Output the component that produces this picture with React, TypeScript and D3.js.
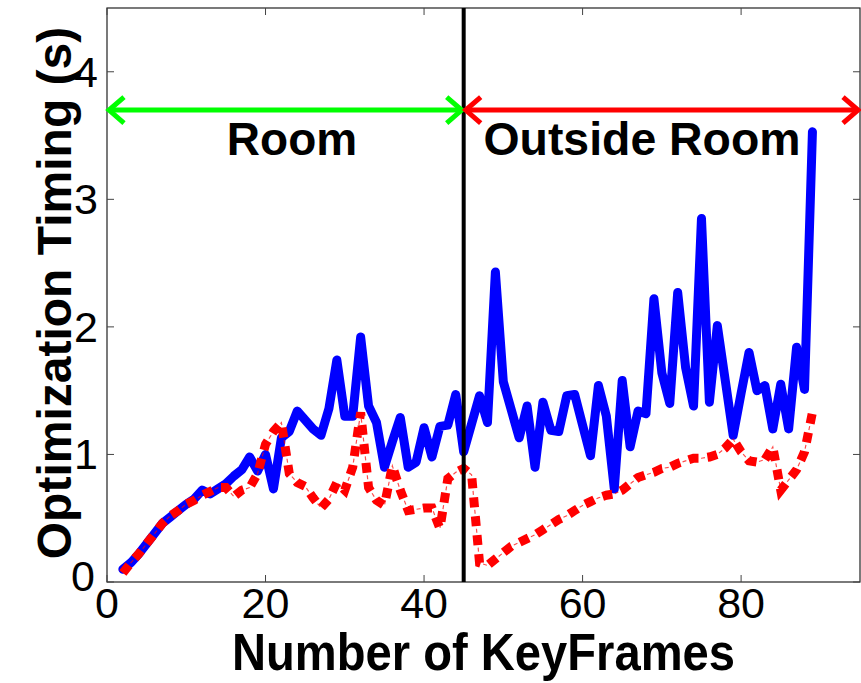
import React, { useEffect, useRef } from 'react';
import * as d3 from 'd3';

// keyframe index of the first sample (samples go one per keyframe)
const firstKeyFrame = 2;

// blue solid line: full optimization timing (s)
const fullTiming = [
  0.10, 0.15, 0.22, 0.30, 0.38, 0.46, 0.51, 0.56, 0.61, 0.65, 0.72, 0.69, 0.73, 0.77, 0.83,
  0.88, 0.98, 0.87, 1.00, 0.73, 1.13, 1.18, 1.34, 1.27, 1.20, 1.15, 1.36, 1.74, 1.30, 1.30,
  1.92, 1.38, 1.25, 0.90, 1.10, 1.29, 0.90, 0.94, 1.21, 0.98, 1.22, 1.23, 1.47, 1.02, 1.24,
  1.46, 1.25, 2.43, 1.57, 1.35, 1.13, 1.38, 0.90, 1.41, 1.19, 1.18, 1.46, 1.47, 1.23, 0.99,
  1.54, 1.30, 0.73, 1.58, 1.06, 1.34, 1.32, 2.22, 1.64, 1.40, 2.27, 1.68, 1.38, 2.85, 1.41,
  2.01, 1.58, 1.15, 1.48, 1.80, 1.50, 1.54, 1.20, 1.55, 1.20, 1.84, 1.51, 3.53,
];

// red dash-dot line: second timing series (s)
const otherTiming = [
  0.07, 0.15, 0.22, 0.30, 0.38, 0.46, 0.52, 0.56, 0.61, 0.64, 0.68, 0.71, 0.74, 0.74, 0.67,
  0.72, 0.74, 0.85, 1.08, 1.18, 1.25, 0.85, 0.78, 0.75, 0.66, 0.58, 0.65, 0.78, 0.72, 0.90,
  1.33, 0.74, 0.64, 0.60, 0.91, 0.72, 0.56, 0.57, 0.58, 0.58, 0.42, 0.81, 0.86, 0.89, 0.84,
  0.15, 0.13, 0.18, 0.23, 0.28, 0.31, 0.34, 0.37, 0.41, 0.45, 0.49, 0.52, 0.56, 0.60, 0.63,
  0.66, 0.68, 0.69, 0.72, 0.77, 0.82, 0.84, 0.86, 0.89, 0.90, 0.93, 0.95, 0.97, 0.97, 0.98,
  1.00, 1.05, 1.12, 1.02, 0.95, 0.94, 0.96, 1.06, 0.72, 0.80, 0.88, 1.02, 1.33,
];

const xTicks = [0, 20, 40, 60, 80];
const yTicks = [0, 1, 2, 3, 4];
const xDomain = [0, 95];
const yDomain = [0, 4.5];

// region split and the level of the region arrows
const splitKeyFrame = 45;
const arrowLevel = 3.7;
const regionLabels = ['Room', 'Outside Room'];

const xTitle = 'Number of KeyFrames';
const yTitle = 'Optimization Timing (s)';

const FONT = '"Liberation Sans", Arial, Helvetica, sans-serif';

const App = () => {
  const svgRef = useRef(null);

  useEffect(() => {
    if (!svgRef.current) return;
    const W = 861;
    const H = 683;
    const margin = { top: 8, right: 1, bottom: 101, left: 107 };
    const width = W - margin.left - margin.right;
    const height = H - margin.top - margin.bottom;

    const root = d3.select(svgRef.current);
    root.selectAll('*').remove();
    root.attr('width', W).attr('height', H);

    const svg = root.append('g')
      .attr('transform', `translate(${margin.left},${margin.top})`);

    const x = d3.scaleLinear().domain(xDomain).range([0, width]);
    const y = d3.scaleLinear().domain(yDomain).range([height, 0]);

    // frame and inward ticks (matlab style box)
    svg.append('rect')
      .attr('width', width).attr('height', height)
      .attr('fill', 'white').attr('stroke', '#222').attr('stroke-width', 1.2);

    const tickLen = 7;
    const tickG = svg.append('g').attr('stroke', '#444').attr('stroke-width', 1);
    xTicks.forEach(t => {
      tickG.append('line').attr('x1', x(t)).attr('x2', x(t)).attr('y1', height).attr('y2', height - tickLen);
      tickG.append('line').attr('x1', x(t)).attr('x2', x(t)).attr('y1', 0).attr('y2', tickLen);
    });
    yTicks.forEach(t => {
      tickG.append('line').attr('x1', 0).attr('x2', tickLen).attr('y1', y(t)).attr('y2', y(t));
      tickG.append('line').attr('x1', width).attr('x2', width - tickLen).attr('y1', y(t)).attr('y2', y(t));
    });

    // tick labels
    svg.append('g').selectAll('text')
      .data(xTicks).enter().append('text')
      .attr('x', d => x(d)).attr('y', height + 36)
      .attr('text-anchor', 'middle')
      .style('font-family', FONT).style('font-size', '43px')
      .text(d => d);

    svg.append('g').selectAll('text')
      .data(yTicks).enter().append('text')
      .attr('x', d => (d === 0 ? -12 : -9)).attr('y', d => y(d) + 15 - (d === 0 ? 6 : 0))
      .attr('text-anchor', 'end')
      .style('font-family', FONT).style('font-size', '43px')
      .text(d => d);

    // axis titles
    svg.append('text')
      .attr('x', width / 2).attr('y', height + 88)
      .attr('text-anchor', 'middle')
      .attr('textLength', 503).attr('lengthAdjust', 'spacingAndGlyphs')
      .style('font-family', FONT).style('font-size', '52px').style('font-weight', 'bold')
      .text(xTitle);

    svg.append('text')
      .attr('transform', `translate(${-107 + 71},${height / 2 - 2}) rotate(-90)`)
      .attr('text-anchor', 'middle')
      .style('font-family', FONT).style('font-size', '48px').style('font-weight', 'bold')
      .text(yTitle);

    const keyFrameOf = i => i + firstKeyFrame;

    const line = d3.line()
      .x((d, i) => x(keyFrameOf(i)))
      .y(d => y(d));

    // blue solid series
    svg.append('path')
      .datum(fullTiming)
      .attr('d', line)
      .attr('fill', 'none')
      .attr('stroke', '#0000ff')
      .attr('stroke-width', 9)
      .attr('stroke-linejoin', 'round')
      .attr('stroke-linecap', 'round');

    // red dash-dot series: thick dashes plus thin dots between
    svg.append('path')
      .datum(otherTiming)
      .attr('d', line)
      .attr('fill', 'none')
      .attr('stroke', '#ff0000')
      .attr('stroke-width', 1.2)
      .attr('stroke-opacity', 0.7)
      .attr('stroke-dasharray', '0 12.5 4 2.5');
    svg.append('path')
      .datum(otherTiming)
      .attr('d', line)
      .attr('fill', 'none')
      .attr('stroke', '#ff0000')
      .attr('stroke-width', 9)
      .attr('stroke-dasharray', '10 9');

    // region divider
    svg.append('line')
      .attr('x1', x(splitKeyFrame)).attr('x2', x(splitKeyFrame))
      .attr('y1', 0).attr('y2', height)
      .attr('stroke', 'black').attr('stroke-width', 4);

    // double headed region arrows
    const ay = y(arrowLevel);
    const head = 17;
    const spread = 13;
    const drawArrow = (x0, x1, color) => {
      const g = svg.append('g')
        .attr('stroke', color).attr('stroke-width', 5).attr('fill', 'none');
      g.append('line').attr('x1', x0 + 2).attr('x2', x1 - 2).attr('y1', ay).attr('y2', ay);
      g.append('path').attr('d', `M${x0 + head},${ay - spread}L${x0 + 2},${ay}L${x0 + head},${ay + spread}`);
      g.append('path').attr('d', `M${x1 - head},${ay - spread}L${x1 - 2},${ay}L${x1 - head},${ay + spread}`);
    };
    drawArrow(x(xDomain[0]), x(splitKeyFrame), '#00ff00');
    drawArrow(x(splitKeyFrame), x(xDomain[1]), '#ff0000');

    // region labels
    svg.append('text')
      .attr('x', 185).attr('y', ay + 45)
      .attr('text-anchor', 'middle')
      .style('font-family', FONT).style('font-size', '46px').style('font-weight', 'bold')
      .text(regionLabels[0]);
    svg.append('text')
      .attr('x', 535).attr('y', ay + 45)
      .attr('text-anchor', 'middle')
      .attr('textLength', 317).attr('lengthAdjust', 'spacingAndGlyphs')
      .style('font-family', FONT).style('font-size', '46px').style('font-weight', 'bold')
      .text(regionLabels[1]);
  }, []);

  return (
    <div>
      <svg ref={svgRef} style={{ position: 'absolute', left: 0, top: 0 }}></svg>
    </div>
  );
};

export default App;
